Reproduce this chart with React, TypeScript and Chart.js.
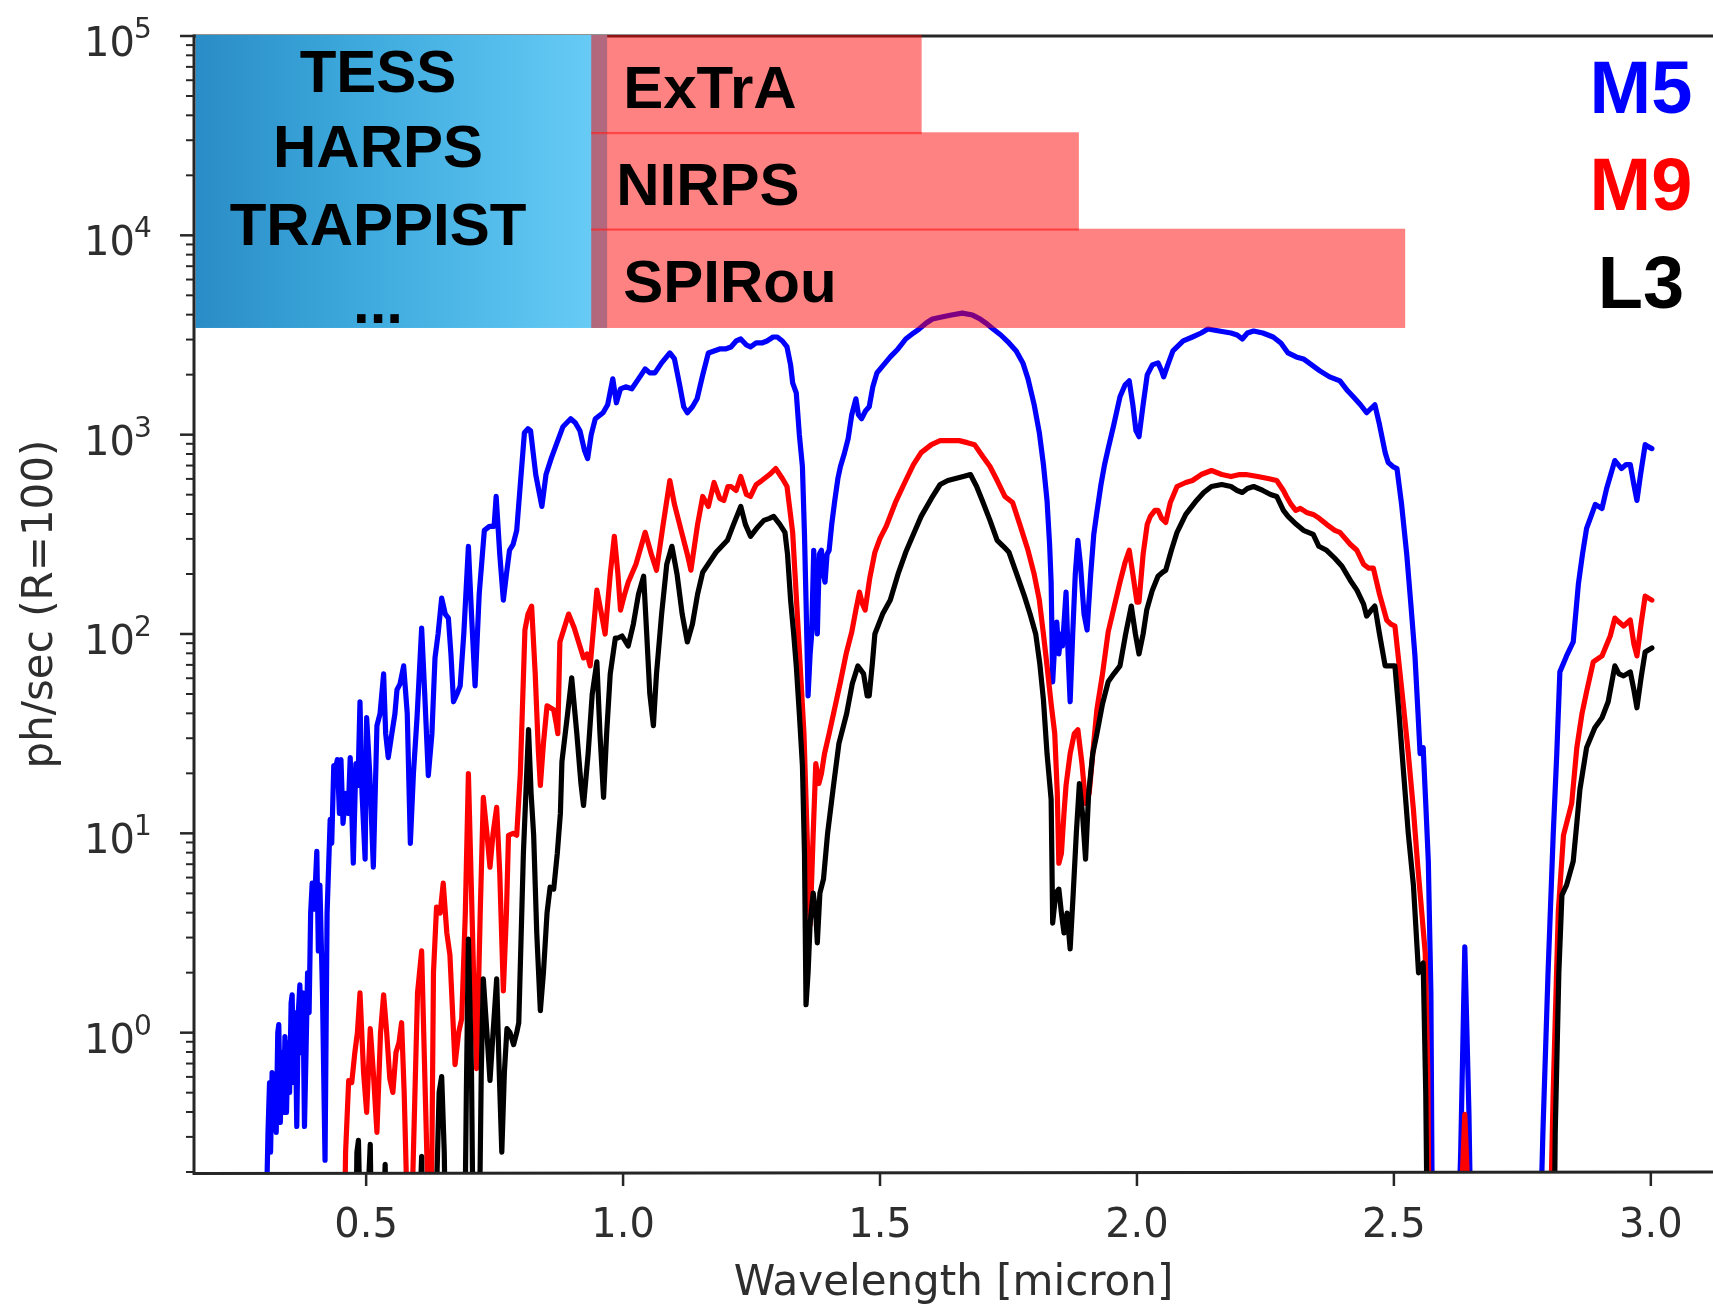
import React, { useEffect, useRef } from "react";
import { Chart, registerables } from "chart.js";

Chart.register(...registerables);

// ---------- data (wavelength in micron, log10 of ph/sec) ----------
const m5Points: [number, number][] = [
  [0.305, -1.0], [0.309, -0.5], [0.312, -0.25], [0.314, -0.6], [0.317, -0.2], [0.32, -0.45], [0.322, -0.23],
  [0.325, -0.5], [0.328, 0.0], [0.33, 0.04], [0.333, -0.45], [0.336, -0.1], [0.339, -0.4], [0.342, -0.02],
  [0.345, -0.4], [0.348, -0.05], [0.351, -0.3], [0.354, 0.15], [0.356, 0.19], [0.359, -0.25], [0.362, 0.1],
  [0.365, -0.47], [0.368, 0.1], [0.371, 0.24], [0.374, -0.1], [0.377, 0.2], [0.38, -0.47], [0.383, -0.1],
  [0.386, 0.3], [0.389, 0.1], [0.392, 0.6], [0.395, 0.75], [0.399, 0.62], [0.404, 0.91], [0.407, 0.41],
  [0.41, 0.74], [0.415, 0.2], [0.42, -0.64], [0.424, 0.6], [0.43, 1.07], [0.433, 0.95], [0.437, 1.34],
  [0.44, 1.32], [0.444, 1.37], [0.448, 1.1], [0.451, 1.37], [0.455, 1.05], [0.46, 1.2], [0.465, 1.1],
  [0.469, 1.38], [0.475, 0.85], [0.48, 1.35], [0.484, 1.24], [0.488, 1.66], [0.492, 1.2], [0.498, 0.87],
  [0.501, 1.58], [0.507, 1.3], [0.514, 0.83], [0.521, 1.54], [0.527, 1.6], [0.534, 1.8], [0.538, 1.5],
  [0.543, 1.38], [0.55, 1.5], [0.556, 1.6], [0.56, 1.72], [0.566, 1.75], [0.573, 1.84], [0.58, 1.6],
  [0.586, 0.95], [0.592, 1.3], [0.599, 1.58], [0.608, 2.03], [0.614, 1.7], [0.621, 1.29], [0.628, 1.5],
  [0.634, 1.88], [0.64, 2.0], [0.647, 2.18], [0.654, 2.1], [0.66, 2.08], [0.665, 1.9], [0.67, 1.66],
  [0.677, 1.7], [0.683, 1.74], [0.69, 2.0], [0.699, 2.44], [0.705, 2.1], [0.712, 1.74], [0.72, 2.2],
  [0.73, 2.52], [0.74, 2.54], [0.749, 2.54], [0.753, 2.69], [0.76, 2.4], [0.767, 2.17], [0.773, 2.3],
  [0.779, 2.42], [0.786, 2.45], [0.793, 2.52], [0.8, 2.75], [0.808, 3.01], [0.815, 3.03], [0.82, 3.02],
  [0.83, 2.8], [0.842, 2.64], [0.85, 2.8], [0.86, 2.88], [0.87, 2.95], [0.883, 3.04], [0.898, 3.08],
  [0.907, 3.06], [0.916, 3.02], [0.925, 2.92], [0.931, 2.88], [0.938, 3.0], [0.946, 3.08], [0.961, 3.11],
  [0.97, 3.15], [0.98, 3.28], [0.987, 3.16], [0.995, 3.23], [1.005, 3.24], [1.017, 3.23], [1.03, 3.28],
  [1.043, 3.33], [1.052, 3.31], [1.062, 3.31], [1.075, 3.36], [1.091, 3.41], [1.1, 3.38], [1.11, 3.25],
  [1.118, 3.14], [1.125, 3.11], [1.135, 3.14], [1.144, 3.18], [1.155, 3.3], [1.166, 3.41], [1.177, 3.42],
  [1.188, 3.43], [1.199, 3.43], [1.21, 3.44], [1.22, 3.47], [1.229, 3.48], [1.24, 3.45], [1.248, 3.44],
  [1.259, 3.46], [1.27, 3.46], [1.28, 3.47], [1.292, 3.49], [1.3, 3.49], [1.31, 3.47], [1.319, 3.44],
  [1.326, 3.35], [1.33, 3.26], [1.337, 3.21], [1.343, 3.0], [1.349, 2.84], [1.353, 2.5], [1.356, 2.17],
  [1.36, 1.69], [1.364, 1.9], [1.367, 2.0], [1.371, 2.42], [1.375, 2.1], [1.378, 2.0], [1.382, 2.4],
  [1.386, 2.42], [1.39, 2.3], [1.393, 2.26], [1.397, 2.4], [1.401, 2.42], [1.406, 2.55], [1.412, 2.67],
  [1.418, 2.78], [1.423, 2.84], [1.43, 2.9], [1.438, 2.98], [1.445, 3.1], [1.453, 3.18], [1.458, 3.1],
  [1.464, 3.08], [1.472, 3.12], [1.479, 3.14], [1.486, 3.24], [1.494, 3.31], [1.507, 3.35], [1.52, 3.39],
  [1.535, 3.43], [1.55, 3.48], [1.565, 3.51], [1.576, 3.53], [1.59, 3.56], [1.602, 3.58], [1.62, 3.59],
  [1.639, 3.6], [1.66, 3.61], [1.68, 3.6], [1.695, 3.58], [1.706, 3.56], [1.72, 3.53], [1.735, 3.5],
  [1.751, 3.46], [1.765, 3.42], [1.778, 3.36], [1.788, 3.28], [1.8, 3.15], [1.81, 3.01], [1.818, 2.85],
  [1.825, 2.67], [1.83, 2.45], [1.833, 2.26], [1.836, 1.76], [1.84, 1.95], [1.844, 2.06], [1.848, 1.9],
  [1.852, 2.0], [1.855, 1.94], [1.858, 2.05], [1.862, 2.21], [1.866, 1.9], [1.87, 1.66], [1.875, 2.0],
  [1.88, 2.3], [1.885, 2.47], [1.89, 2.35], [1.897, 2.1], [1.903, 2.02], [1.91, 2.3], [1.916, 2.5],
  [1.922, 2.61], [1.93, 2.75], [1.937, 2.85], [1.944, 2.93], [1.955, 3.05], [1.967, 3.19], [1.977, 3.25],
  [1.985, 3.27], [1.992, 3.15], [1.998, 3.02], [2.004, 2.99], [2.012, 3.15], [2.02, 3.3], [2.03, 3.35],
  [2.041, 3.36], [2.048, 3.32], [2.052, 3.29], [2.06, 3.35], [2.07, 3.42], [2.078, 3.44], [2.09, 3.47],
  [2.108, 3.49], [2.125, 3.51], [2.138, 3.53], [2.16, 3.52], [2.183, 3.51], [2.195, 3.5], [2.205, 3.48],
  [2.215, 3.51], [2.227, 3.52], [2.245, 3.51], [2.265, 3.49], [2.28, 3.46], [2.294, 3.41], [2.31, 3.39],
  [2.324, 3.38], [2.34, 3.35], [2.356, 3.32], [2.375, 3.29], [2.395, 3.27], [2.41, 3.22], [2.421, 3.19],
  [2.435, 3.15], [2.447, 3.11], [2.455, 3.13], [2.463, 3.15], [2.472, 3.05], [2.483, 2.91], [2.489, 2.86],
  [2.498, 2.84], [2.506, 2.83], [2.515, 2.65], [2.525, 2.4], [2.533, 2.15], [2.541, 1.89], [2.547, 1.6],
  [2.551, 1.4], [2.557, 1.43], [2.562, 1.15], [2.567, 0.86], [2.572, 0.2], [2.576, -1.5], [2.62, -1.5],
  [2.63, -0.6], [2.638, 0.43], [2.646, -0.4], [2.653, -1.5], [2.78, -1.5], [2.79, -0.5], [2.8, 0.3],
  [2.81, 0.99], [2.817, 1.4], [2.823, 1.81], [2.836, 1.89], [2.849, 1.96], [2.859, 2.25], [2.867, 2.4],
  [2.875, 2.53], [2.885, 2.6], [2.892, 2.65], [2.905, 2.63], [2.914, 2.73], [2.922, 2.8], [2.93, 2.87],
  [2.943, 2.83], [2.952, 2.85], [2.96, 2.85], [2.967, 2.75], [2.973, 2.67], [2.98, 2.8], [2.989, 2.95],
  [2.995, 2.94], [3.002, 2.93],
];

const m9Points: [number, number][] = [
  [0.455, -1.5], [0.46, -0.6], [0.466, -0.24], [0.472, -0.25], [0.478, -0.1], [0.483, 0.0], [0.488, 0.2],
  [0.495, -0.2], [0.501, -0.4], [0.508, 0.02], [0.514, -0.2], [0.521, -0.5], [0.528, 0.0], [0.534, 0.19],
  [0.54, 0.0], [0.546, -0.23], [0.552, -0.3], [0.558, -0.1], [0.564, -0.05], [0.569, 0.05], [0.574, -0.3],
  [0.579, -0.8], [0.583, -1.5], [0.592, -0.6], [0.6, 0.2], [0.608, 0.41], [0.614, -0.2], [0.62, -0.8],
  [0.625, -1.5], [0.631, 0.3], [0.637, 0.63], [0.644, 0.6], [0.65, 0.75], [0.657, 0.5], [0.663, 0.39],
  [0.673, -0.16], [0.68, 0.0], [0.686, 0.07], [0.693, 0.6], [0.699, 1.3], [0.705, 0.7], [0.71, 0.2],
  [0.715, -0.18], [0.722, 0.6], [0.728, 1.18], [0.735, 1.0], [0.741, 0.83], [0.747, 1.0], [0.754, 1.13],
  [0.76, 0.8], [0.767, 0.21], [0.773, 0.6], [0.777, 0.99], [0.786, 1.0], [0.793, 0.99], [0.8, 1.3],
  [0.809, 2.02], [0.815, 2.1], [0.822, 2.14], [0.829, 1.8], [0.835, 1.42], [0.839, 1.24], [0.845, 1.45],
  [0.852, 1.64], [0.865, 1.62], [0.87, 1.55], [0.873, 1.5], [0.877, 1.96], [0.894, 2.1], [0.905, 2.03],
  [0.923, 1.88], [0.93, 1.9], [0.936, 1.84], [0.949, 2.22], [0.958, 2.1], [0.965, 2.0], [0.975, 2.3],
  [0.983, 2.49], [0.99, 2.3], [0.995, 2.12], [1.003, 2.2], [1.01, 2.26], [1.025, 2.35], [1.043, 2.51],
  [1.055, 2.4], [1.065, 2.32], [1.078, 2.55], [1.091, 2.77], [1.1, 2.65], [1.114, 2.51], [1.125, 2.4],
  [1.132, 2.32], [1.145, 2.55], [1.155, 2.69], [1.166, 2.64], [1.177, 2.76], [1.188, 2.68], [1.196, 2.67],
  [1.204, 2.74], [1.21, 2.74], [1.22, 2.72], [1.229, 2.79], [1.24, 2.7], [1.248, 2.69], [1.259, 2.75],
  [1.27, 2.77], [1.285, 2.8], [1.297, 2.83], [1.31, 2.78], [1.319, 2.74], [1.33, 2.51], [1.341, 2.01],
  [1.352, 1.5], [1.358, 1.0], [1.364, 0.54], [1.37, 1.0], [1.375, 1.35], [1.381, 1.25], [1.386, 1.3],
  [1.392, 1.4], [1.401, 1.5], [1.412, 1.63], [1.423, 1.76], [1.434, 1.9], [1.445, 2.01], [1.453, 2.12],
  [1.46, 2.21], [1.466, 2.15], [1.471, 2.12], [1.48, 2.28], [1.49, 2.41], [1.5, 2.48], [1.512, 2.54],
  [1.53, 2.66], [1.55, 2.77], [1.565, 2.85], [1.58, 2.91], [1.6, 2.95], [1.617, 2.97], [1.635, 2.97],
  [1.654, 2.97], [1.67, 2.96], [1.684, 2.95], [1.7, 2.89], [1.714, 2.84], [1.728, 2.77], [1.743, 2.69],
  [1.758, 2.66], [1.772, 2.55], [1.788, 2.42], [1.8, 2.3], [1.81, 2.17], [1.818, 2.0], [1.825, 1.84],
  [1.833, 1.65], [1.84, 1.5], [1.845, 1.2], [1.848, 0.85], [1.853, 0.9], [1.858, 1.1], [1.862, 1.24],
  [1.87, 1.4], [1.878, 1.5], [1.885, 1.52], [1.893, 1.35], [1.9, 1.15], [1.907, 1.2], [1.914, 1.4],
  [1.922, 1.62], [1.933, 1.8], [1.944, 2.01], [1.955, 2.13], [1.967, 2.26], [1.977, 2.36], [1.985, 2.42],
  [1.992, 2.3], [2.0, 2.16], [2.004, 2.16], [2.012, 2.4], [2.02, 2.55], [2.026, 2.59], [2.035, 2.62],
  [2.041, 2.62], [2.048, 2.58], [2.056, 2.56], [2.065, 2.66], [2.078, 2.74], [2.095, 2.76], [2.108, 2.77],
  [2.125, 2.8], [2.145, 2.82], [2.165, 2.8], [2.183, 2.79], [2.2, 2.8], [2.212, 2.8], [2.235, 2.79],
  [2.255, 2.78], [2.272, 2.77], [2.285, 2.72], [2.291, 2.69], [2.3, 2.65], [2.309, 2.62], [2.318, 2.63],
  [2.33, 2.61], [2.343, 2.6], [2.355, 2.58], [2.369, 2.55], [2.385, 2.52], [2.395, 2.51], [2.415, 2.45],
  [2.428, 2.42], [2.441, 2.35], [2.451, 2.33], [2.46, 2.33], [2.472, 2.2], [2.486, 2.07], [2.494, 2.05],
  [2.502, 2.04], [2.51, 1.85], [2.519, 1.63], [2.528, 1.4], [2.538, 1.12], [2.546, 0.85], [2.554, 0.61],
  [2.561, 0.4], [2.566, -0.2], [2.57, -1.5], [2.625, -1.5], [2.632, -0.8], [2.638, -0.41], [2.644, -0.8],
  [2.65, -1.5], [2.8, -1.5], [2.81, -0.3], [2.82, 0.61], [2.83, 0.99], [2.846, 1.15], [2.856, 1.43],
  [2.866, 1.6], [2.875, 1.71], [2.888, 1.86], [2.905, 1.89], [2.921, 1.99], [2.93, 2.08], [2.938, 2.06],
  [2.947, 2.04], [2.96, 2.07], [2.967, 1.95], [2.973, 1.89], [2.981, 2.05], [2.989, 2.19], [3.002, 2.17],
];

const l3Points: [number, number][] = [
  [0.478, -1.5], [0.482, -0.6], [0.485, -0.54], [0.488, -0.9], [0.492, -1.5], [0.504, -0.8], [0.508, -0.56],
  [0.513, -1.5], [0.533, -1.0], [0.537, -0.66], [0.542, -1.5], [0.603, -1.0], [0.608, -0.62], [0.613, -1.5],
  [0.635, -1.0], [0.642, -0.3], [0.647, -0.22], [0.652, -0.6], [0.657, -1.5], [0.69, -1.5], [0.695, -0.3],
  [0.699, 0.47], [0.705, -0.2], [0.71, -1.5], [0.718, -1.5], [0.724, -0.2], [0.728, 0.27], [0.735, 0.0],
  [0.741, -0.24], [0.747, 0.0], [0.754, 0.27], [0.759, -0.2], [0.764, -0.6], [0.769, -0.2], [0.774, 0.02],
  [0.78, 0.0], [0.787, -0.06], [0.793, 0.0], [0.797, 0.05], [0.806, 0.9], [0.816, 1.52], [0.821, 1.2],
  [0.826, 0.99], [0.832, 0.5], [0.839, 0.11], [0.845, 0.3], [0.852, 0.6], [0.858, 0.73], [0.865, 0.72],
  [0.872, 0.9], [0.878, 1.1], [0.881, 1.36], [0.892, 1.6], [0.9, 1.78], [0.91, 1.5], [0.918, 1.25],
  [0.923, 1.14], [0.932, 1.4], [0.94, 1.7], [0.949, 1.86], [0.955, 1.5], [0.962, 1.18], [0.968, 1.5],
  [0.975, 1.8], [0.985, 1.98], [0.99, 1.98], [0.998, 1.99], [1.01, 1.94], [1.02, 2.05], [1.03, 2.2],
  [1.04, 2.29], [1.046, 2.0], [1.052, 1.7], [1.059, 1.54], [1.065, 1.8], [1.075, 2.1], [1.085, 2.35],
  [1.095, 2.44], [1.105, 2.3], [1.115, 2.1], [1.125, 1.96], [1.135, 2.05], [1.145, 2.2], [1.155, 2.31],
  [1.168, 2.36], [1.181, 2.41], [1.192, 2.44], [1.203, 2.47], [1.215, 2.55], [1.229, 2.64], [1.238, 2.55],
  [1.248, 2.49], [1.26, 2.53], [1.274, 2.57], [1.285, 2.58], [1.293, 2.59], [1.305, 2.55], [1.315, 2.51],
  [1.32, 2.4], [1.326, 2.17], [1.332, 2.0], [1.337, 1.84], [1.343, 1.6], [1.349, 1.34], [1.353, 0.9],
  [1.356, 0.14], [1.36, 0.3], [1.364, 0.55], [1.37, 0.7], [1.375, 0.6], [1.378, 0.45], [1.383, 0.7],
  [1.39, 0.77], [1.398, 1.0], [1.41, 1.25], [1.42, 1.45], [1.435, 1.6], [1.446, 1.75], [1.457, 1.84],
  [1.468, 1.8], [1.475, 1.69], [1.479, 1.69], [1.485, 1.85], [1.49, 2.0], [1.505, 2.1], [1.52, 2.17],
  [1.535, 2.3], [1.55, 2.41], [1.565, 2.5], [1.58, 2.59], [1.6, 2.68], [1.617, 2.75], [1.632, 2.77],
  [1.647, 2.78], [1.662, 2.79], [1.676, 2.8], [1.688, 2.74], [1.699, 2.67], [1.714, 2.57], [1.728, 2.47],
  [1.74, 2.44], [1.751, 2.41], [1.766, 2.3], [1.781, 2.19], [1.792, 2.1], [1.803, 2.0], [1.811, 1.85],
  [1.818, 1.67], [1.825, 1.4], [1.833, 1.17], [1.836, 0.55], [1.842, 0.7], [1.848, 0.72], [1.853, 0.6],
  [1.858, 0.5], [1.864, 0.6], [1.87, 0.42], [1.876, 0.7], [1.882, 1.0], [1.888, 1.25], [1.894, 1.1],
  [1.9, 0.87], [1.906, 1.2], [1.914, 1.4], [1.922, 1.5], [1.933, 1.65], [1.944, 1.76], [1.955, 1.8],
  [1.967, 1.84], [1.978, 2.0], [1.989, 2.14], [1.997, 2.0], [2.004, 1.9], [2.012, 2.0], [2.019, 2.12],
  [2.03, 2.22], [2.041, 2.29], [2.05, 2.31], [2.056, 2.32], [2.067, 2.42], [2.078, 2.51], [2.095, 2.6],
  [2.116, 2.67], [2.13, 2.71], [2.145, 2.74], [2.165, 2.75], [2.183, 2.74], [2.195, 2.72], [2.205, 2.71],
  [2.215, 2.73], [2.227, 2.74], [2.245, 2.72], [2.26, 2.7], [2.272, 2.69], [2.285, 2.62], [2.294, 2.59],
  [2.31, 2.55], [2.324, 2.52], [2.343, 2.5], [2.354, 2.44], [2.369, 2.42], [2.385, 2.38], [2.399, 2.34],
  [2.415, 2.27], [2.428, 2.22], [2.441, 2.15], [2.447, 2.09], [2.456, 2.12], [2.463, 2.14], [2.472, 2.0],
  [2.483, 1.84], [2.495, 1.84], [2.502, 1.84], [2.51, 1.6], [2.519, 1.3], [2.528, 1.0], [2.538, 0.74],
  [2.548, 0.3], [2.552, 0.32], [2.557, 0.35], [2.562, -0.3], [2.567, -1.5], [2.81, -1.5], [2.814, -0.5],
  [2.821, 0.3], [2.827, 0.69], [2.836, 0.74], [2.849, 0.86], [2.856, 1.05], [2.862, 1.22], [2.875, 1.43],
  [2.891, 1.53], [2.905, 1.58], [2.917, 1.66], [2.93, 1.84], [2.938, 1.8], [2.947, 1.79], [2.96, 1.81],
  [2.967, 1.72], [2.973, 1.63], [2.981, 1.78], [2.989, 1.91], [3.002, 1.93],
];

// instrument coverage boxes
const broadbandLabels = ["TESS", "HARPS", "TRAPPIST", "..."];
const broadbandRange = [0.168, 0.969]; // micron
const nirInstruments = ["ExTrA", "NIRPS", "SPIRou"];
const nirStart = 0.938; // micron
const nirEnds = [1.581, 1.887, 2.522]; // micron
const nirBandEdges = [100000, 32500, 10670, 3430]; // ph/sec, top to bottom

// legend
const seriesNames = ["M5", "M9", "L3"];
const seriesColors = ["#0000ff", "#ff0000", "#000000"];

// axes
const xTicks = [0.5, 1.0, 1.5, 2.0, 2.5, 3.0];
const yDecades = [0, 1, 2, 3, 4, 5];
const X_MIN = 0.165;
const X_MAX = 3.121;
const Y_MIN = 0.2;
const Y_MAX = 100000;

const toXY = (pts: [number, number][]) => pts.map(([x, l]) => ({ x, y: Math.pow(10, l) }));

export default function App() {
  const ref = useRef<HTMLCanvasElement>(null);

  useEffect(() => {
    document.body.style.margin = "0";
    const canvas = ref.current!;
    const ctx = canvas.getContext("2d")!;

    const TXT = "#2e2e2e";
    const SPINE = "#262626";

    const bg = {
      id: "bg",
      beforeDraw(chart: any) {
        const c = chart.ctx;
        c.save();
        c.fillStyle = "#ffffff";
        c.fillRect(0, 0, chart.width, chart.height);
        c.restore();
      },
    };

    const overlay = {
      id: "overlay",
      afterDatasetsDraw(chart: any) {
        const c: CanvasRenderingContext2D = chart.ctx;
        const xs = chart.scales.x;
        const ys = chart.scales.y;
        const { left, right, top, bottom } = chart.chartArea;
        c.save();

        // top spine (under the red boxes)
        c.strokeStyle = SPINE;
        c.lineWidth = 3;
        c.beginPath();
        c.moveTo(left, top);
        c.lineTo(right, top);
        c.stroke();

        // blue broadband box
        const bx0 = xs.getPixelForValue(broadbandRange[0]);
        const bx1 = xs.getPixelForValue(broadbandRange[1]);
        const by0 = ys.getPixelForValue(nirBandEdges[0]);
        const by1 = ys.getPixelForValue(nirBandEdges[3]);
        const g = c.createLinearGradient(bx0, 0, bx1, 0);
        g.addColorStop(0, "#2b8cc6");
        g.addColorStop(0.35, "#3aa6da");
        g.addColorStop(0.7, "#52bbea");
        g.addColorStop(1, "#6acdf7");
        c.fillStyle = g;
        c.fillRect(bx0, by0 - 1, bx1 - bx0, by1 - by0 + 1);

        // red NIR boxes
        const rx0 = xs.getPixelForValue(nirStart);
        for (let i = 0; i < nirInstruments.length; i++) {
          const y0 = ys.getPixelForValue(nirBandEdges[i]);
          const y1 = ys.getPixelForValue(nirBandEdges[i + 1]);
          const x1 = xs.getPixelForValue(nirEnds[i]);
          c.fillStyle = "rgba(255,0,0,0.49)";
          c.fillRect(rx0, y0 - 1, x1 - rx0, y1 - y0 + 1);
        }
        c.strokeStyle = "rgba(255,40,40,0.55)";
        c.lineWidth = 2;
        for (let i = 1; i < nirInstruments.length; i++) {
          const y = ys.getPixelForValue(nirBandEdges[i]);
          const x1 = xs.getPixelForValue(nirEnds[i - 1]);
          c.beginPath();
          c.moveTo(rx0, y);
          c.lineTo(x1, y);
          c.stroke();
        }

        // box labels
        c.fillStyle = "#000000";
        c.font = "bold 60px 'Liberation Sans', Arial, sans-serif";
        c.textBaseline = "alphabetic";
        c.textAlign = "center";
        const bcx = 378;
        const bBase = [92, 167, 245, 323];
        broadbandLabels.forEach((t, i) => c.fillText(t, bcx, bBase[i]));
        c.textAlign = "left";
        const rOff = [32, 25, 32];
        for (let i = 0; i < nirInstruments.length; i++) {
          const y0 = ys.getPixelForValue(nirBandEdges[i]);
          const y1 = ys.getPixelForValue(nirBandEdges[i + 1]);
          c.fillText(nirInstruments[i], rx0 + rOff[i], (y0 + y1) / 2 + 23.5);
        }

        // legend labels
        c.font = "bold 74px 'Liberation Sans', Arial, sans-serif";
        c.textAlign = "center";
        const lBase = [113, 210, 308];
        seriesNames.forEach((t, i) => {
          c.fillStyle = seriesColors[i];
          c.fillText(t, 1641, lBase[i]);
        });

        // left and bottom spines
        c.strokeStyle = SPINE;
        c.lineWidth = 3;
        c.beginPath();
        c.moveTo(left, top - 1.5);
        c.lineTo(left, bottom + 1.5);
        c.lineTo(right, bottom);
        c.stroke();

        // x ticks
        c.lineWidth = 2.5;
        c.font = "40px 'DejaVu Sans', sans-serif";
        c.fillStyle = TXT;
        c.textAlign = "center";
        xTicks.forEach((v) => {
          const px = xs.getPixelForValue(v);
          c.beginPath();
          c.moveTo(px, bottom);
          c.lineTo(px, bottom + 14);
          c.stroke();
          c.fillText(v.toFixed(1), px, bottom + 65);
        });

        // y ticks (major + minor)
        yDecades.forEach((n) => {
          const py = ys.getPixelForValue(Math.pow(10, n));
          c.lineWidth = 2.5;
          c.beginPath();
          c.moveTo(left - 14, py);
          c.lineTo(left, py);
          c.stroke();
          c.font = "40px 'DejaVu Sans', sans-serif";
          c.textAlign = "right";
          c.fillText("10", 135, py + 20);
          c.font = "28px 'DejaVu Sans', sans-serif";
          c.textAlign = "left";
          c.fillText(String(n), 134, py + 2);
        });
        c.lineWidth = 2;
        for (let n = -1; n < 5; n++) {
          for (let k = 2; k <= 9; k++) {
            const v = k * Math.pow(10, n);
            if (v < Y_MIN || v > Y_MAX) continue;
            const py = ys.getPixelForValue(v);
            c.beginPath();
            c.moveTo(left - 8, py);
            c.lineTo(left, py);
            c.stroke();
          }
        }

        // axis titles
        c.font = "42px 'DejaVu Sans', sans-serif";
        c.textAlign = "center";
        c.fillText("Wavelength [micron]", (left + right) / 2, 1295);
        c.save();
        c.translate(52, (top + bottom) / 2);
        c.rotate(-Math.PI / 2);
        c.fillText("ph/sec (R=100)", 0, 0);
        c.restore();

        c.restore();
      },
    };

    const common = {
      borderWidth: 5.2,
      pointRadius: 0,
      tension: 0,
      fill: false,
      borderJoinStyle: "round" as const,
      borderCapStyle: "round" as const,
      clip: 0,
    };

    const chart = new Chart(ctx, {
      type: "line",
      data: {
        datasets: [
          { label: seriesNames[2], data: toXY(l3Points), borderColor: seriesColors[2], ...common },
          { label: seriesNames[1], data: toXY(m9Points), borderColor: seriesColors[1], ...common },
          { label: seriesNames[0], data: toXY(m5Points), borderColor: seriesColors[0], ...common },
        ],
      },
      options: {
        animation: false,
        responsive: false,
        devicePixelRatio: 1,
        events: [],
        layout: { padding: { left: 194, top: 36, right: 0, bottom: 132 } },
        plugins: { legend: { display: false }, tooltip: { enabled: false } },
        scales: {
          x: { type: "linear", min: X_MIN, max: X_MAX, display: false },
          y: { type: "logarithmic", min: Y_MIN, max: Y_MAX, display: false },
        },
      } as any,
      plugins: [bg, overlay],
    });

    return () => chart.destroy();
  }, []);

  return (
    <canvas
      ref={ref}
      width={1713}
      height={1304}
      style={{ display: "block", width: "1713px", height: "1304px" }}
    />
  );
}
